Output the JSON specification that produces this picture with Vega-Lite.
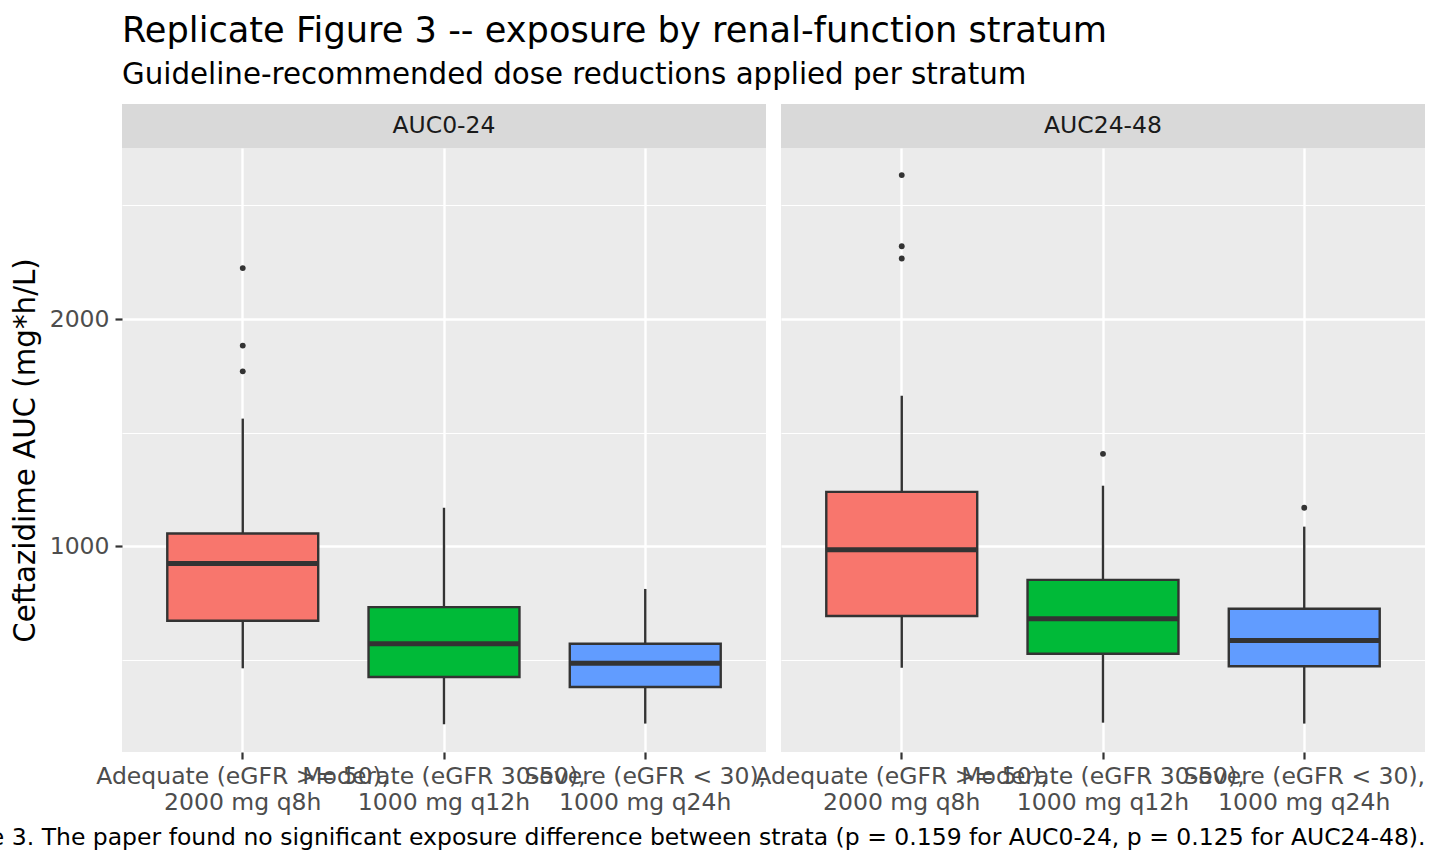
{
  "$schema": "https://vega.github.io/schema/vega-lite/v6.json",
  "autosize": {"type": "none"},
  "padding": {"left": 122, "top": 104, "right": 1318, "bottom": 760},
  "background": "white",
  "datasets": {
    "boxes": [
      {"metric": "AUC0-24", "stratum": "Adequate (eGFR >= 50), 2000 mg q8h", "lo": 464, "q1": 673, "med": 925, "q3": 1057, "hi": 1562},
      {"metric": "AUC0-24", "stratum": "Moderate (eGFR 30-50), 1000 mg q12h", "lo": 218, "q1": 426, "med": 572, "q3": 733, "hi": 1170},
      {"metric": "AUC0-24", "stratum": "Severe (eGFR < 30), 1000 mg q24h", "lo": 221, "q1": 382, "med": 486, "q3": 572, "hi": 813},
      {"metric": "AUC24-48", "stratum": "Adequate (eGFR >= 50), 2000 mg q8h", "lo": 466, "q1": 694, "med": 985, "q3": 1240, "hi": 1663},
      {"metric": "AUC24-48", "stratum": "Moderate (eGFR 30-50), 1000 mg q12h", "lo": 225, "q1": 528, "med": 682, "q3": 853, "hi": 1267},
      {"metric": "AUC24-48", "stratum": "Severe (eGFR < 30), 1000 mg q24h", "lo": 221, "q1": 473, "med": 586, "q3": 726, "hi": 1087}
    ],
    "outliers": [
      {"metric": "AUC0-24", "stratum": "Adequate (eGFR >= 50), 2000 mg q8h", "value": 2224},
      {"metric": "AUC0-24", "stratum": "Adequate (eGFR >= 50), 2000 mg q8h", "value": 1883},
      {"metric": "AUC0-24", "stratum": "Adequate (eGFR >= 50), 2000 mg q8h", "value": 1770},
      {"metric": "AUC24-48", "stratum": "Adequate (eGFR >= 50), 2000 mg q8h", "value": 2633},
      {"metric": "AUC24-48", "stratum": "Adequate (eGFR >= 50), 2000 mg q8h", "value": 2320},
      {"metric": "AUC24-48", "stratum": "Adequate (eGFR >= 50), 2000 mg q8h", "value": 2266},
      {"metric": "AUC24-48", "stratum": "Moderate (eGFR 30-50), 1000 mg q12h", "value": 1407},
      {"metric": "AUC24-48", "stratum": "Severe (eGFR < 30), 1000 mg q24h", "value": 1170}
    ]
  },
  "title": {
    "text": "Replicate Figure 3 -- exposure by renal-function stratum",
    "subtitle": "Guideline-recommended dose reductions applied per stratum",
    "anchor": "start",
    "frame": "group",
    "font": "DejaVu Sans",
    "fontSize": 35.2,
    "fontWeight": "normal",
    "color": "#000000",
    "subtitleFont": "DejaVu Sans",
    "subtitleFontSize": 29.3,
    "subtitleColor": "#000000",
    "subtitlePadding": 12,
    "offset": 14
  },
  "columns": 2,
  "spacing": {"row": 0, "column": 15},
  "bounds": "flush",
  "concat": [
    {
      "width": 644,
      "height": 44,
      "view": {"fill": "#D9D9D9", "stroke": null},
      "data": {"values": [{"metric": "AUC0-24"}]},
      "mark": {"type": "text", "fontSize": 23.5, "color": "#1A1A1A", "align": "center", "baseline": "middle"},
      "encoding": {"text": {"field": "metric"}}
    },
    {
      "width": 644,
      "height": 44,
      "view": {"fill": "#D9D9D9", "stroke": null},
      "data": {"values": [{"metric": "AUC24-48"}]},
      "mark": {"type": "text", "fontSize": 23.5, "color": "#1A1A1A", "align": "center", "baseline": "middle"},
      "encoding": {"text": {"field": "metric"}}
    },
    {
      "width": 644,
      "height": 604,
      "view": {"fill": "#EBEBEB", "stroke": null},
      "resolve": {"axis": {"y": "independent"}},
      "layer": [
        {
          "data": {"name": "boxes"},
          "transform": [{"filter": "datum.metric === 'AUC0-24'"}],
          "mark": {"type": "rule", "color": "#333333", "strokeWidth": 2.4},
          "encoding": {
            "x": {"field": "stratum", "type": "nominal", "sort": ["Adequate (eGFR >= 50), 2000 mg q8h", "Moderate (eGFR 30-50), 1000 mg q12h", "Severe (eGFR < 30), 1000 mg q24h"],
              "scale": {"type": "band", "paddingInner": 0.25, "paddingOuter": 0.225},
              "axis": {"title": null, "domain": false, "bandPosition": 0.5, "grid": true, "gridColor": "#FFFFFF", "gridWidth": 2.4,
                "ticks": true, "tickSize": 7, "tickColor": "#333333", "tickWidth": 2.2,
                "labelAngle": 0, "labelFontSize": 23.5, "labelColor": "#4D4D4D", "labelPadding": 5, "labelLineHeight": 26,
                "labelOverlap": false, "labelBound": false, "labelFlush": false, "labelLimit": 500, "labelAlign": "center", "labelBaseline": "top",
                "labelExpr": "[split(datum.label, ', ')[0] + ',', split(datum.label, ', ')[1]]"}},
            "y": {"field": "lo", "type": "quantitative", "scale": {"domain": [96, 2752], "nice": false, "zero": false},
              "axis": {"orient": "left", "values": [1000, 2000], "format": "d", "domain": false, "grid": true, "gridColor": "#FFFFFF", "gridWidth": 2.4,
                "tickSize": 7, "tickColor": "#333333", "tickWidth": 2.2, "labelFontSize": 23.5, "labelColor": "#4D4D4D", "labelPadding": 6,
                "title": "Ceftazidime AUC (mg*h/L)", "titleFontSize": 29.3, "titleFontWeight": "normal", "titleColor": "#000000", "titlePadding": 9}},
            "y2": {"field": "hi"}
          }
        },
        {
          "data": {"name": "boxes"},
          "transform": [{"filter": "datum.metric === 'AUC0-24'"}],
          "mark": {"type": "bar", "stroke": "#333333", "strokeWidth": 2.4},
          "encoding": {
            "x": {"field": "stratum", "type": "nominal", "sort": ["Adequate (eGFR >= 50), 2000 mg q8h", "Moderate (eGFR 30-50), 1000 mg q12h", "Severe (eGFR < 30), 1000 mg q24h"], "scale": {"type": "band", "paddingInner": 0.25, "paddingOuter": 0.225}},
            "y": {"field": "q1", "type": "quantitative",
              "axis": {"orient": "right", "values": [500, 1500, 2500], "domain": false, "ticks": false, "labels": false, "title": null, "grid": true, "gridColor": "#FFFFFF", "gridWidth": 1.2}},
            "y2": {"field": "q3"},
            "fill": {"field": "stratum", "type": "nominal", "scale": {"domain": ["Adequate (eGFR >= 50), 2000 mg q8h", "Moderate (eGFR 30-50), 1000 mg q12h", "Severe (eGFR < 30), 1000 mg q24h"], "range": ["#F8766D", "#00BA38", "#619CFF"]}, "legend": null}
          }
        },
        {
          "data": {"name": "boxes"},
          "transform": [{"filter": "datum.metric === 'AUC0-24'"}],
          "mark": {"type": "tick", "color": "#333333", "thickness": 5, "size": 151, "opacity": 1, "orient": "horizontal"},
          "encoding": {
            "x": {"field": "stratum", "type": "nominal", "sort": ["Adequate (eGFR >= 50), 2000 mg q8h", "Moderate (eGFR 30-50), 1000 mg q12h", "Severe (eGFR < 30), 1000 mg q24h"], "scale": {"type": "band", "paddingInner": 0.25, "paddingOuter": 0.225}},
            "y": {"field": "med", "type": "quantitative", "axis": null}
          }
        },
        {
          "data": {"name": "outliers"},
          "transform": [{"filter": "datum.metric === 'AUC0-24'"}],
          "mark": {"type": "point", "filled": true, "color": "#333333", "opacity": 1, "size": 34},
          "encoding": {
            "x": {"field": "stratum", "type": "nominal", "sort": ["Adequate (eGFR >= 50), 2000 mg q8h", "Moderate (eGFR 30-50), 1000 mg q12h", "Severe (eGFR < 30), 1000 mg q24h"], "scale": {"type": "band", "paddingInner": 0.25, "paddingOuter": 0.225}},
            "y": {"field": "value", "type": "quantitative", "axis": null}
          }
        }
      ]
    },
    {
      "width": 644,
      "height": 604,
      "view": {"fill": "#EBEBEB", "stroke": null},
      "resolve": {"axis": {"y": "independent"}},
      "layer": [
        {
          "data": {"name": "boxes"},
          "transform": [{"filter": "datum.metric === 'AUC24-48'"}],
          "mark": {"type": "rule", "color": "#333333", "strokeWidth": 2.4},
          "encoding": {
            "x": {"field": "stratum", "type": "nominal", "sort": ["Adequate (eGFR >= 50), 2000 mg q8h", "Moderate (eGFR 30-50), 1000 mg q12h", "Severe (eGFR < 30), 1000 mg q24h"],
              "scale": {"type": "band", "paddingInner": 0.25, "paddingOuter": 0.225},
              "axis": {"domain": false, "bandPosition": 0.5, "grid": true, "gridColor": "#FFFFFF", "gridWidth": 2.4,
                "ticks": true, "tickSize": 7, "tickColor": "#333333", "tickWidth": 2.2,
                "labelAngle": 0, "labelFontSize": 23.5, "labelColor": "#4D4D4D", "labelPadding": 5, "labelLineHeight": 26,
                "labelOverlap": false, "labelBound": false, "labelFlush": false, "labelLimit": 500, "labelAlign": "center", "labelBaseline": "top",
                "labelExpr": "[split(datum.label, ', ')[0] + ',', split(datum.label, ', ')[1]]",
                "title": "Figure 3. The paper found no significant exposure difference between strata (p = 0.159 for AUC0-24, p = 0.125 for AUC24-48).",
                "titleAnchor": "end", "titleAlign": "right", "titleBaseline": "alphabetic", "titleY": 92, "titleFontSize": 23.5, "titleFontWeight": "normal", "titleColor": "#000000", "titleLimit": 3000}},
            "y": {"field": "lo", "type": "quantitative", "scale": {"domain": [96, 2752], "nice": false, "zero": false},
              "axis": {"orient": "left", "values": [1000, 2000], "domain": false, "ticks": false, "labels": false, "title": null, "grid": true, "gridColor": "#FFFFFF", "gridWidth": 2.4}},
            "y2": {"field": "hi"}
          }
        },
        {
          "data": {"name": "boxes"},
          "transform": [{"filter": "datum.metric === 'AUC24-48'"}],
          "mark": {"type": "bar", "stroke": "#333333", "strokeWidth": 2.4},
          "encoding": {
            "x": {"field": "stratum", "type": "nominal", "sort": ["Adequate (eGFR >= 50), 2000 mg q8h", "Moderate (eGFR 30-50), 1000 mg q12h", "Severe (eGFR < 30), 1000 mg q24h"], "scale": {"type": "band", "paddingInner": 0.25, "paddingOuter": 0.225}},
            "y": {"field": "q1", "type": "quantitative",
              "axis": {"orient": "right", "values": [500, 1500, 2500], "domain": false, "ticks": false, "labels": false, "title": null, "grid": true, "gridColor": "#FFFFFF", "gridWidth": 1.2}},
            "y2": {"field": "q3"},
            "fill": {"field": "stratum", "type": "nominal", "scale": {"domain": ["Adequate (eGFR >= 50), 2000 mg q8h", "Moderate (eGFR 30-50), 1000 mg q12h", "Severe (eGFR < 30), 1000 mg q24h"], "range": ["#F8766D", "#00BA38", "#619CFF"]}, "legend": null}
          }
        },
        {
          "data": {"name": "boxes"},
          "transform": [{"filter": "datum.metric === 'AUC24-48'"}],
          "mark": {"type": "tick", "color": "#333333", "thickness": 5, "size": 151, "opacity": 1, "orient": "horizontal"},
          "encoding": {
            "x": {"field": "stratum", "type": "nominal", "sort": ["Adequate (eGFR >= 50), 2000 mg q8h", "Moderate (eGFR 30-50), 1000 mg q12h", "Severe (eGFR < 30), 1000 mg q24h"], "scale": {"type": "band", "paddingInner": 0.25, "paddingOuter": 0.225}},
            "y": {"field": "med", "type": "quantitative", "axis": null}
          }
        },
        {
          "data": {"name": "outliers"},
          "transform": [{"filter": "datum.metric === 'AUC24-48'"}],
          "mark": {"type": "point", "filled": true, "color": "#333333", "opacity": 1, "size": 34},
          "encoding": {
            "x": {"field": "stratum", "type": "nominal", "sort": ["Adequate (eGFR >= 50), 2000 mg q8h", "Moderate (eGFR 30-50), 1000 mg q12h", "Severe (eGFR < 30), 1000 mg q24h"], "scale": {"type": "band", "paddingInner": 0.25, "paddingOuter": 0.225}},
            "y": {"field": "value", "type": "quantitative", "axis": null}
          }
        }
      ]
    }
  ],
  "config": {
    "font": "DejaVu Sans",
    "view": {"stroke": null}
  }
}
